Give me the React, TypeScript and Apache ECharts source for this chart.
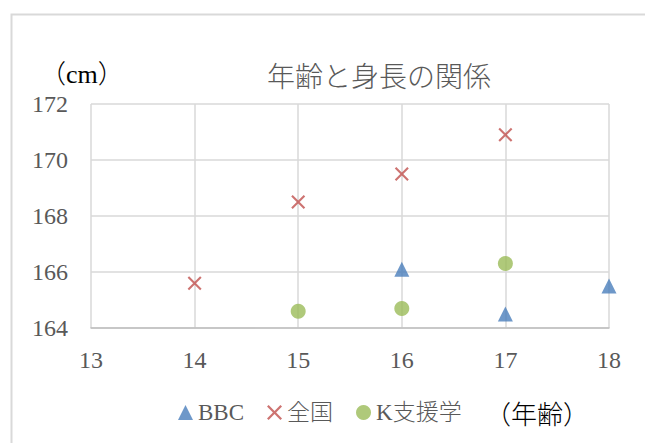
import React, { useEffect, useRef } from 'react';
import * as echarts from 'echarts';

// 年齢（歳）と平均身長（cm）
const bbcAges = [16, 17, 18];
const bbcHeights = [166.1, 164.5, 165.5];
const nationalAges = [14, 15, 16, 17];
const nationalHeights = [165.6, 168.5, 169.5, 170.9];
const kAges = [15, 16, 17];
const kHeights = [164.6, 164.7, 166.3];

const seriesNames = ['BBC', '全国', 'K支援学'];
const titleText = '年齢と身長の関係';
const yUnit = '（cm）';
const xUnit = '（年齢）';

const xMin = 13;
const xMax = 18;
const yMin = 164;
const yMax = 172;

const FONT = "'Liberation Serif', 'Noto Sans CJK JP', serif";
const CROSS = 'path://M0,1.5L1.5,0L7,5.5L12.5,0L14,1.5L8.5,7L14,12.5L12.5,14L7,8.5L1.5,14L0,12.5L5.5,7Z';

const pairs = (xs: number[], ys: number[]) => xs.map((x, i) => [x, ys[i]]);

export default function App() {
  const ref = useRef<HTMLDivElement>(null);

  useEffect(() => {
    const chart = echarts.init(ref.current!, null, { renderer: 'svg' });
    chart.setOption({
      animation: false,
      backgroundColor: '#ffffff',
      textStyle: { fontFamily: FONT },
      grid: { left: 91, right: 36, top: 104, bottom: 115 },
      xAxis: {
        type: 'value',
        min: xMin,
        max: xMax,
        interval: 1,
        axisLine: { show: true, lineStyle: { color: '#bfbfbf', width: 1.5 } },
        axisTick: { show: false },
        splitLine: { show: true, lineStyle: { color: '#d9d9d9', width: 1.5 } },
        axisLabel: { color: '#595959', fontSize: 24, fontFamily: FONT, margin: 20 },
      },
      yAxis: {
        type: 'value',
        min: yMin,
        max: yMax,
        interval: 2,
        axisLine: { show: false },
        axisTick: { show: false },
        splitLine: { show: true, lineStyle: { color: '#d9d9d9', width: 1.5 } },
        axisLabel: { color: '#595959', fontSize: 24, fontFamily: FONT, margin: 23 },
      },
      legend: {
        left: 178,
        top: 401,
        padding: 0,
        itemWidth: 15,
        itemHeight: 15,
        itemGap: 23,
        textStyle: { color: '#595959', fontSize: 23, fontWeight: 300, fontFamily: FONT },
        data: seriesNames,
      },
      graphic: [
        {
          type: 'rect',
          silent: true,
          z: -10,
          shape: { x: 11.5, y: 14.5, width: 700, height: 500 },
          style: { fill: 'none', stroke: '#d9d9d9', lineWidth: 2 },
        },
        {
          type: 'text',
          x: 267,
          y: 77,
          style: {
            text: titleText,
            fontSize: 28,
            fontWeight: 300,
            fontFamily: FONT,
            fill: '#595959',
            textAlign: 'left',
            textVerticalAlign: 'middle',
          },
        },
        {
          type: 'text',
          x: 40,
          y: 74,
          style: {
            text: yUnit,
            fontSize: 26,
            fontWeight: 300,
            fontFamily: FONT,
            fill: '#000000',
            textAlign: 'left',
            textVerticalAlign: 'middle',
          },
        },
        {
          type: 'text',
          x: 485,
          y: 415,
          style: {
            text: xUnit,
            fontSize: 26,
            fontWeight: 300,
            fontFamily: FONT,
            fill: '#000000',
            textAlign: 'left',
            textVerticalAlign: 'middle',
          },
        },
      ],
      series: [
        {
          name: seriesNames[0],
          type: 'scatter',
          symbol: 'triangle',
          symbolSize: 15,
          clip: false,
          itemStyle: { color: '#4a7ebb' },
          data: pairs(bbcAges, bbcHeights),
        },
        {
          name: seriesNames[1],
          type: 'scatter',
          symbol: CROSS,
          symbolSize: 14,
          clip: false,
          itemStyle: { color: '#c0504d' },
          data: pairs(nationalAges, nationalHeights),
        },
        {
          name: seriesNames[2],
          type: 'scatter',
          symbol: 'circle',
          symbolSize: 15,
          clip: false,
          itemStyle: { color: '#9bbb59' },
          data: pairs(kAges, kHeights),
        },
      ],
    });
    return () => chart.dispose();
  }, []);

  return (
    <div
      ref={ref}
      style={{ position: 'absolute', left: 0, top: 0, width: 645, height: 443, background: '#ffffff' }}
    />
  );
}
